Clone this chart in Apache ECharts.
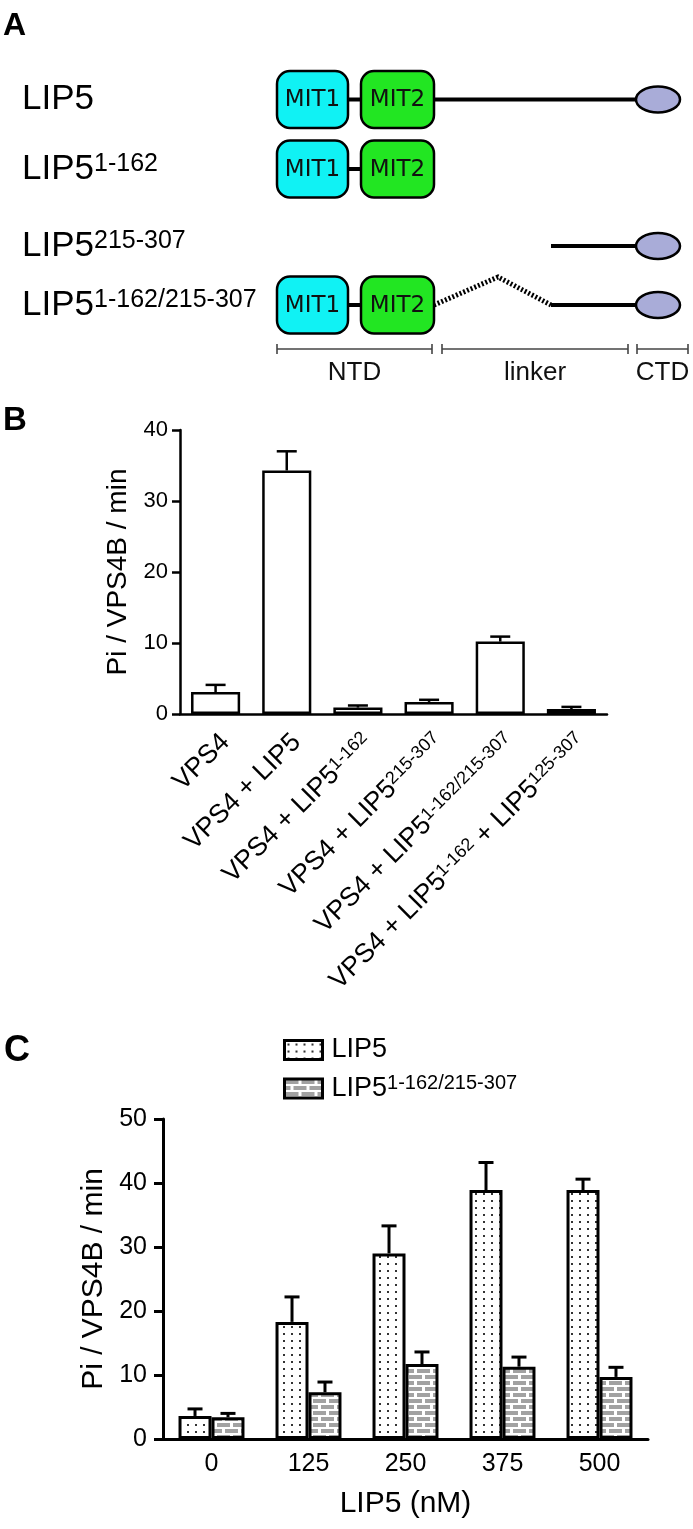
<!DOCTYPE html>
<html><head><meta charset="utf-8">
<script src="https://cdn.jsdelivr.net/npm/echarts@6/dist/echarts.min.js"></script>
<style>html,body{margin:0;padding:0;background:#fff}#c{width:693px;height:1529px}</style>
</head><body><div id="c"></div>
<script>
// ---------------- Panel A (schematic) ----------------
const constructs = ['LIP5', 'LIP5^{1-162}', 'LIP5^{215-307}', 'LIP5^{1-162/215-307}'];
const constructDomains = [
  ['linker', 'CTD', 'MIT1', 'MIT2'],
  ['MIT1', 'MIT2'],
  ['linkerC', 'CTD'],
  ['deletion', 'linkerC', 'CTD', 'MIT1', 'MIT2']
];
// schematic units (offset from start of NTD)
const domainSpan = { MIT1: [0, 71], MIT2: [84, 157], linker: [157, 381], linkerC: [274, 381], deletion: [157, 274], CTD: [359, 403] };
const rowY = [99.5, 169, 246, 305];
const regions = ['NTD', 'linker', 'CTD'];
const regionSpan = [[0, 155], [165, 351], [360, 411]];

// ---------------- Panel B ----------------
const bCategories = ['VPS4', 'VPS4 + LIP5', 'VPS4 + LIP5^{1-162}', 'VPS4 + LIP5^{215-307}', 'VPS4 + LIP5^{1-162/215-307}', 'VPS4 + LIP5^{1-162} + LIP5^{125-307}'];
const bValues = [3.1, 34.3, 0.9, 1.7, 10.2, 0.7];
const bSem = [1.0, 2.7, 0.3, 0.3, 0.7, 0.3];
const bTicks = [0, 40, 10];

// ---------------- Panel C ----------------
const cCategories = ['0', '125', '250', '375', '500'];
const cSeriesNames = ['LIP5', 'LIP5^{1-162/215-307}'];
const cLip5 = [3.6, 18.3, 29.0, 38.9, 38.9];
const cLip5Sem = [1.1, 3.9, 4.3, 4.3, 1.7];
const cMut = [3.4, 7.3, 11.7, 11.3, 9.7];
const cMutSem = [0.6, 1.6, 1.9, 1.5, 1.5];
const cTicks = [0, 50, 10];

const FONT = "'Liberation Sans', Arial, Helvetica, sans-serif";

function toRich(s, n, sup) {
  return s.split(/(\^\{[^}]*\})/).filter(Boolean).map(t => t.startsWith('^{') ? '{' + sup + '|' + t.slice(2, -1) + '}' : '{' + n + '|' + t + '}').join('');
}

function dotPattern() {
  const c = document.createElement('canvas'); c.width = 8; c.height = 7;
  const g = c.getContext('2d'); g.fillStyle = '#fff'; g.fillRect(0, 0, 8, 7);
  g.fillStyle = '#333'; g.fillRect(3, 3, 2, 2); return c;
}
function brickPattern() {
  const c = document.createElement('canvas'); c.width = 16; c.height = 12;
  const g = c.getContext('2d'); g.fillStyle = '#fff'; g.fillRect(0, 0, 16, 12);
  g.fillStyle = '#a2a2a2';
  g.fillRect(1, 1, 13, 4);
  g.fillRect(9, 7, 7, 4); g.fillRect(0, 7, 6, 4);
  return c;
}

const chart = echarts.init(document.getElementById('c'), null, { renderer: 'canvas' });

function renderConstruct(params, api) {
  const i = api.value(0);
  const y = api.coord([0, rowY[i]])[1];
  const X = v => api.coord([v, 0])[0];
  const children = [];
  const parts = constructDomains[i];
  children.push({
    type: 'text',
    style: {
      text: toRich(constructs[i], 'b', 's'), x: X(-255), y: y, verticalAlign: 'middle', align: 'left',
      fill: '#000', fontFamily: FONT, fontSize: 35,
      rich: { b: { fontSize: 35, fontFamily: FONT, fill: '#000' }, s: { fontSize: 25, fontFamily: FONT, fill: '#000', verticalAlign: 'top' } }
    }
  });
  if (parts.includes('MIT1') && parts.includes('MIT2')) {
    children.push({ type: 'line', shape: { x1: X(domainSpan.MIT1[1]), y1: y, x2: X(domainSpan.MIT2[0]), y2: y }, style: { stroke: '#000', lineWidth: 4 } });
  }
  parts.forEach(p => {
    const s = domainSpan[p];
    if (p === 'MIT1' || p === 'MIT2') {
      children.push({ type: 'rect', shape: { x: X(s[0]), y: y - 28.5, width: X(s[1]) - X(s[0]), height: 57, r: 13 },
        style: { fill: p === 'MIT1' ? '#10f2f4' : '#22e622', stroke: '#000', lineWidth: 2.5 } });
      children.push({ type: 'text', style: { text: p, x: (X(s[0]) + X(s[1])) / 2, y: y + 1, align: 'center', verticalAlign: 'middle',
        fill: '#111', fontSize: 23, fontFamily: "'DejaVu Sans', sans-serif" } });
    } else if (p === 'linker' || p === 'linkerC') {
      children.push({ type: 'line', shape: { x1: X(s[0]), y1: y, x2: X(s[1]), y2: y }, style: { stroke: '#000', lineWidth: 4 } });
    } else if (p === 'deletion') {
      const peak = api.coord([0, rowY[i] - 28])[1];
      children.push({ type: 'polyline', shape: { points: [[X(s[0]), y], [X(221), peak], [X(s[1]), y]] },
        style: { stroke: '#000', lineWidth: 5, lineDash: [2, 2], fill: null } });
    } else if (p === 'CTD') {
      children.push({ type: 'ellipse', shape: { cx: (X(s[0]) + X(s[1])) / 2, cy: y, rx: (X(s[1]) - X(s[0])) / 2, ry: 13 },
        style: { fill: '#a9acd8', stroke: '#000', lineWidth: 2.5 } });
    }
  });
  return { type: 'group', children };
}

function renderRegion(params, api) {
  const i = api.value(0);
  const s = regionSpan[i];
  const x1 = api.coord([s[0], 349])[0], x2 = api.coord([s[1], 349])[0];
  const y = api.coord([0, 349])[1];
  const ty = api.coord([0, 373])[1];
  return { type: 'group', children: [
    { type: 'line', shape: { x1, y1: y, x2, y2: y }, style: { stroke: '#444', lineWidth: 1.6 } },
    { type: 'line', shape: { x1, y1: y - 5, x2: x1, y2: y + 5 }, style: { stroke: '#444', lineWidth: 1.6 } },
    { type: 'line', shape: { x1: x2, y1: y - 5, x2, y2: y + 5 }, style: { stroke: '#444', lineWidth: 1.6 } },
    { type: 'text', style: { text: regions[i], x: (x1 + x2) / 2, y: ty, align: 'center', verticalAlign: 'middle', fill: '#111', fontSize: 26, fontFamily: FONT } }
  ] };
}

function errRender(values, sems, offsetSign, lw, cap) {
  return function (params, api) {
    const i = api.value(0);
    const base = api.coord([i, values[i]]);
    const top = api.coord([i, values[i] + sems[i]]);
    let off = 0;
    if (offsetSign !== 0) {
      const band = api.size([1, 0])[0];
      off = offsetSign * band * (1 - 0.32) / 4;
    }
    const x = base[0] + off;
    return { type: 'group', children: [
      { type: 'line', shape: { x1: x, y1: base[1], x2: x, y2: top[1] }, style: { stroke: '#000', lineWidth: lw } },
      { type: 'line', shape: { x1: x - cap / 2, y1: top[1], x2: x + cap / 2, y2: top[1] }, style: { stroke: '#000', lineWidth: lw } }
    ] };
  };
}

const dots = { image: dotPattern(), repeat: 'repeat' };
const bricks = { image: brickPattern(), repeat: 'repeat' };

const option = {
  backgroundColor: '#fff',
  animation: false,
  textStyle: { fontFamily: FONT, color: '#000' },
  graphic: [
    { type: 'text', left: 3, top: 10, style: { text: 'A', fontSize: 32, fontWeight: 'bold', fontFamily: FONT, fill: '#000' } },
    { type: 'text', left: 3, top: 404, style: { text: 'B', fontSize: 33, fontWeight: 'bold', fontFamily: FONT, fill: '#000' } },
    { type: 'text', left: 4, top: 1033, style: { text: 'C', fontSize: 36, fontWeight: 'bold', fontFamily: FONT, fill: '#000' } }
  ],
  legend: {
    data: cSeriesNames, left: 283, top: 1035, padding: 0, orient: 'vertical', itemWidth: 38, itemHeight: 19, itemGap: 8.5,
    icon: 'rect', selectedMode: false,
    itemStyle: { borderColor: '#000', borderWidth: 3 },
    formatter: name => toRich(name, 'n', 's'),
    textStyle: { color: '#000', fontSize: 27, fontFamily: FONT, padding: [0, 0, 0, 4], lineHeight: 30,
      rich: { n: { fontSize: 27, lineHeight: 30, fontFamily: FONT, color: '#000' }, s: { fontSize: 20, lineHeight: 30, fontFamily: FONT, color: '#000', verticalAlign: 'top' } } }
  },
  grid: [
    { left: 277, top: 0, width: 411, height: 400 },
    { left: 180, top: 430, width: 427, height: 284 },
    { left: 163, top: 1119, width: 485, height: 320 }
  ],
  xAxis: [
    { gridIndex: 0, type: 'value', min: 0, max: 411, show: false },
    { gridIndex: 1, type: 'category', data: bCategories,
      axisLine: { lineStyle: { color: '#000', width: 2.5 } },
      axisTick: { alignWithLabel: true, length: 8, lineStyle: { color: '#000', width: 2.5 } },
      axisLabel: { rotate: 45, margin: 34, interval: 0, color: '#000', fontSize: 26.5, fontFamily: FONT,
        padding: [0, -14, 0, 0],
        formatter: v => toRich(v, 'n', 's'),
        rich: { n: { fontSize: 26.5, fontFamily: FONT, color: '#000' }, s: { fontSize: 18, fontFamily: FONT, color: '#000', verticalAlign: 'top' } } } },
    { gridIndex: 2, type: 'category', data: cCategories,
      name: 'LIP5 (nM)', nameLocation: 'middle', nameGap: 50, nameTextStyle: { fontSize: 30, color: '#000', fontFamily: FONT },
      axisLine: { lineStyle: { color: '#000', width: 3 } },
      axisTick: { alignWithLabel: true, length: 9, lineStyle: { color: '#000', width: 3 } },
      axisLabel: { margin: 13, color: '#000', fontSize: 25, fontFamily: FONT } }
  ],
  yAxis: [
    { gridIndex: 0, type: 'value', min: 0, max: 400, inverse: true, show: false },
    { gridIndex: 1, type: 'value', min: bTicks[0], max: bTicks[1], interval: bTicks[2],
      name: 'Pi / VPS4B / min', nameLocation: 'middle', nameRotate: 90, nameGap: 45,
      nameTextStyle: { fontSize: 28, color: '#000', fontFamily: FONT },
      axisLine: { show: true, lineStyle: { color: '#000', width: 2.5 } },
      axisTick: { show: true, length: 8, lineStyle: { color: '#000', width: 2.5 } },
      splitLine: { show: false },
      axisLabel: { margin: 12, color: '#000', fontSize: 22, fontFamily: FONT } },
    { gridIndex: 2, type: 'value', min: cTicks[0], max: cTicks[1], interval: cTicks[2],
      name: 'Pi / VPS4B / min', nameLocation: 'middle', nameRotate: 90, nameGap: 53,
      nameTextStyle: { fontSize: 30, color: '#000', fontFamily: FONT },
      axisLine: { show: true, lineStyle: { color: '#000', width: 3 } },
      axisTick: { show: true, length: 9, lineStyle: { color: '#000', width: 3 } },
      splitLine: { show: false },
      axisLabel: { margin: 16, color: '#000', fontSize: 25, fontFamily: FONT } }
  ],
  series: [
    { type: 'custom', name: 'constructs', xAxisIndex: 0, yAxisIndex: 0, data: constructs.map((c, i) => [i, rowY[i]]),
      encode: { x: 0, y: 1 }, renderItem: renderConstruct, silent: true },
    { type: 'custom', name: 'regions', xAxisIndex: 0, yAxisIndex: 0, data: regions.map((r, i) => [i, 349]),
      encode: { x: 0, y: 1 }, renderItem: renderRegion, silent: true },
    { type: 'bar', name: 'B', xAxisIndex: 1, yAxisIndex: 1, data: bValues, barCategoryGap: '31%',
      itemStyle: { color: '#fff', borderColor: '#000', borderWidth: 2.5 } },
    { type: 'custom', name: 'Berr', xAxisIndex: 1, yAxisIndex: 1, z: 3, data: bValues.map((v, i) => [i, v + bSem[i]]),
      encode: { x: 0, y: 1 }, renderItem: errRender(bValues, bSem, 0, 2.5, 20) },
    { type: 'bar', name: cSeriesNames[0], xAxisIndex: 2, yAxisIndex: 2, data: cLip5, barGap: '0%', barCategoryGap: '32%',
      itemStyle: { color: dots, borderColor: '#000', borderWidth: 3 } },
    { type: 'bar', name: cSeriesNames[1], xAxisIndex: 2, yAxisIndex: 2, data: cMut, barGap: '0%', barCategoryGap: '32%',
      itemStyle: { color: bricks, borderColor: '#000', borderWidth: 3 } },
    { type: 'custom', name: 'Cerr1', xAxisIndex: 2, yAxisIndex: 2, z: 3, data: cLip5.map((v, i) => [i, v + cLip5Sem[i]]),
      encode: { x: 0, y: 1 }, renderItem: errRender(cLip5, cLip5Sem, -1, 3, 15) },
    { type: 'custom', name: 'Cerr2', xAxisIndex: 2, yAxisIndex: 2, z: 3, data: cMut.map((v, i) => [i, v + cMutSem[i]]),
      encode: { x: 0, y: 1 }, renderItem: errRender(cMut, cMutSem, 1, 3, 15) }
  ]
};
chart.setOption(option);
</script></body></html>
